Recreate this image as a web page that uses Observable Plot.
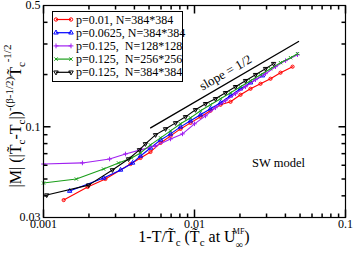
<!DOCTYPE html>
<html><head><meta charset="utf-8">
<script src="https://cdn.jsdelivr.net/npm/d3@7"></script>
<script src="https://cdn.jsdelivr.net/npm/@observablehq/plot@0.6"></script>
<style>body{margin:0;background:#fff} svg{display:block}</style>
</head><body><div id="chart"></div>
<script>
// ---- data ----
const seriesNames = ["p=0.01, N=384*384","p=0.0625, N=384*384","p=0.125,  N=128*128","p=0.125,  N=256*256","p=0.125,  N=384*384"];
const seriesColors = ["#ff0000","#0000ff","#a020f0","#1a9e1a","#000000"];

const redX = [0.00136,0.00196,0.00257,0.00377,0.00439,0.00511,0.00596,0.00694,0.00808,0.00941,0.01096,0.01276,0.01487,0.01732,0.02017,0.02349,0.02736,0.03187,0.03712,0.0446];
const redY = [0.0378,0.0450,0.0500,0.0610,0.0661,0.0716,0.0807,0.0886,0.0972,0.1053,0.1141,0.1236,0.1339,0.1393,0.1529,0.1656,0.1770,0.1892,0.2050,0.2220];

const blueX = [0.00149,0.00250,0.00324,0.00389,0.00439,0.00511,0.00596,0.00694,0.00808,0.00941,0.01096,0.01276,0.01487,0.01732,0.02017,0.02349,0.0282];
const blueY = [0.0426,0.0507,0.0564,0.0619,0.0679,0.0755,0.0840,0.0910,0.0999,0.1082,0.1172,0.1270,0.1375,0.1509,0.1656,0.1794,0.1970];

const violetX = [0.001,0.00181,0.00274,0.00349,0.00439,0.00552,0.00694,0.00833,0.0100,0.01183,0.01377,0.01604,0.01869,0.02177,0.02535,0.02953,0.0344,0.0401,0.0481];
const violetY = [0.0610,0.0619,0.0652,0.0697,0.0736,0.0776,0.0851,0.0910,0.1040,0.1156,0.1287,0.1412,0.1550,0.1701,0.1868,0.2023,0.2220,0.2405,0.2604];

const greenX = [0.001,0.00165,0.00250,0.00314,0.00383,0.00439,0.00511,0.00596,0.00694,0.00808,0.00941,0.01096,0.01276,0.01487,0.01732,0.02017,0.02349,0.02736,0.03187,0.03712,0.04324,0.0481];
const greenY = [0.0474,0.0500,0.0571,0.0619,0.0661,0.0707,0.0786,0.0863,0.0947,0.1040,0.1126,0.1236,0.1339,0.1450,0.1570,0.1701,0.1843,0.1996,0.2162,0.2342,0.2502,0.2639];

const blackX = [0.00105,0.00199,0.00286,0.00366,0.00432,0.00473,0.00552,0.00643,0.00749,0.00872,0.01015,0.01183,0.01377,0.01604,0.01869,0.02177,0.02535,0.02953,0.0334];
const blackY = [0.0404,0.0461,0.0564,0.0652,0.0736,0.0797,0.0898,0.0972,0.1053,0.1141,0.1253,0.1357,0.1450,0.1570,0.1701,0.1843,0.1996,0.2162,0.2311];

const slopeX = [0.00512,0.0489];
const slopeY = [0.0986,0.310];
const slopeLabel = {x:0.01604, y:0.205, text:"slope = 1/2"};
const modelLabel = {x:0.036, y:0.0619, text:"SW model"};

const xTickLabels = [0.001,0.01,0.1];
const xMinor = [0.002,0.003,0.004,0.005,0.006,0.007,0.008,0.009,0.02,0.03,0.04,0.05,0.06,0.07,0.08,0.09];
const yTickLabels = [0.03,0.1,0.5];
const yMajor = [0.1];
const yMinor = [0.04,0.05,0.06,0.07,0.08,0.09,0.2,0.3,0.4];

// ---- build ----
const zip = (X,Y) => X.map((x,i)=>({x, y:Y[i]}));
const series = [
  {d: zip(redX,redY), c: seriesColors[0], sym:"circle", rot:0},
  {d: zip(blueX,blueY), c: seriesColors[1], sym:"triangle", rot:0},
  {d: zip(violetX,violetY), c: seriesColors[2], sym:"plus", rot:0},
  {d: zip(greenX,greenY), c: seriesColors[3], sym:"times", rot:0},
  {d: zip(blackX,blackY), c: seriesColors[4], sym:"triangle", rot:180}
];
const tick = (dx,dy) => ({draw(ctx){ctx.moveTo(0,0); ctx.lineTo(dx,dy);}});

const marks = [];
for (const s of series) {
  marks.push(Plot.line(s.d, {x:"x", y:"y", stroke:s.c, strokeWidth:1.1}));
  marks.push(Plot.dot(s.d, {x:"x", y:"y", stroke:s.c, fill:"none", symbol:s.sym, r:1.6, strokeWidth:1, rotate:s.rot}));
}
marks.push(Plot.line(zip(slopeX,slopeY), {x:"x", y:"y", stroke:"black", strokeWidth:1.3}));
marks.push(Plot.text([slopeLabel], {x:"x", y:"y", text:"text", rotate:-30, fontSize:13}));
marks.push(Plot.text([modelLabel], {x:"x", y:"y", text:"text", fontSize:12.5}));
// inward ticks
marks.push(Plot.dot(xTickLabels, {x:d=>d, frameAnchor:"bottom", symbol:tick(0,-8), stroke:"black", fill:"none"}));
marks.push(Plot.dot(xMinor, {x:d=>d, frameAnchor:"bottom", symbol:tick(0,-4), stroke:"black", fill:"none"}));
marks.push(Plot.dot(xTickLabels, {x:d=>d, frameAnchor:"top", symbol:tick(0,8), stroke:"black", fill:"none"}));
marks.push(Plot.dot(xMinor, {x:d=>d, frameAnchor:"top", symbol:tick(0,4), stroke:"black", fill:"none"}));
marks.push(Plot.dot(yMajor, {y:d=>d, frameAnchor:"left", symbol:tick(7,0), stroke:"black", fill:"none"}));
marks.push(Plot.dot(yMinor, {y:d=>d, frameAnchor:"left", symbol:tick(4,0), stroke:"black", fill:"none"}));
marks.push(Plot.dot(yMajor, {y:d=>d, frameAnchor:"right", symbol:tick(-7,0), stroke:"black", fill:"none"}));
marks.push(Plot.dot(yMinor, {y:d=>d, frameAnchor:"right", symbol:tick(-4,0), stroke:"black", fill:"none"}));
marks.push(Plot.axisX({anchor:"bottom", ticks:xTickLabels, tickSize:0, tickPadding:2, tickFormat:d=>String(d), label:null, fontSize:12}));
marks.push(Plot.axisY({anchor:"left", ticks:yTickLabels, tickSize:0, tickPadding:3, tickFormat:d=>String(d), label:null, fontSize:12}));
marks.push(Plot.frame({stroke:"black", strokeWidth:1.2}));

const plot = Plot.plot({
  width:353, height:257,
  marginLeft:43, marginRight:8, marginTop:5, marginBottom:40,
  x:{type:"log", domain:[0.001,0.1]},
  y:{type:"log", domain:[0.03,0.5]},
  style:{fontFamily:"Liberation Serif", fontSize:"12px", background:"#fff", color:"black"},
  marks
});
document.getElementById("chart").appendChild(plot);

// ---- decorations: legend and axis titles ----
const svg = d3.select(plot);
const lg = svg.append("g").attr("font-family","Liberation Serif").attr("font-size",12).attr("text-anchor","start");
lg.append("rect").attr("x",52.5).attr("y",11.5).attr("width",130).attr("height",70)
  .style("fill","white").style("stroke","black").style("stroke-width","1px");
const legSyms = [d3.symbolCircle,d3.symbolTriangle,d3.symbolPlus,d3.symbolTimes,d3.symbolTriangle];
seriesNames.forEach((name,i)=>{
  const y = 19.5 + i*13.2;
  lg.append("line").attr("x1",56).attr("x2",71).attr("y1",y).attr("y2",y)
    .style("stroke",seriesColors[i]).style("stroke-width","1.2px");
  [56,71].forEach(x=>{
    lg.append("path").attr("d",d3.symbol(legSyms[i],9)()).attr("transform",`translate(${x},${y})${i===4?" rotate(180)":""}`)
      .style("fill","none").style("stroke",seriesColors[i]);
  });
  lg.append("text").attr("x",76).attr("y",y+4).attr("text-anchor","start")
    .style("white-space","pre").style("fill","black").text(name);
});

// y axis title
const yt = svg.append("text").attr("transform","translate(21,116) rotate(-90)").attr("text-anchor","middle")
  .attr("font-family","Liberation Serif").attr("font-size",16).style("fill","black");
yt.append("tspan").text("|M| (|T\u0303");
yt.append("tspan").attr("font-size",11).attr("dy",4).text("c");
yt.append("tspan").attr("dy",-4).text("-T");
yt.append("tspan").attr("font-size",11).attr("dy",4).text("c");
yt.append("tspan").attr("dy",-4).text("|)");
yt.append("tspan").attr("font-size",11).attr("dy",-8).text("-(β-1/2)");
yt.append("tspan").attr("dy",8).text("T\u0303");
yt.append("tspan").attr("font-size",11).attr("dy",4).text("c");
yt.append("tspan").attr("font-size",11).attr("dx",-3).attr("dy",-14).text(" -1/2");

// x axis title
const xt = svg.append("text").attr("x",194).attr("y",242).attr("text-anchor","middle")
  .attr("font-family","Liberation Serif").attr("font-size",16).style("fill","black");
xt.append("tspan").text("1-T/T\u0303");
xt.append("tspan").attr("font-size",11).attr("dy",4).text("c");
xt.append("tspan").attr("dy",-4).text(" (T\u0303");
xt.append("tspan").attr("font-size",11).attr("dy",4).text("c");
xt.append("tspan").attr("dy",-4).text(" at U");
xt.append("tspan").attr("font-size",10).attr("dy",6).text("∞");
xt.append("tspan").attr("font-size",8).attr("dx",-10).attr("dy",-14).text("MF");
xt.append("tspan").attr("dy",8).text(")");
</script>
</body></html>
